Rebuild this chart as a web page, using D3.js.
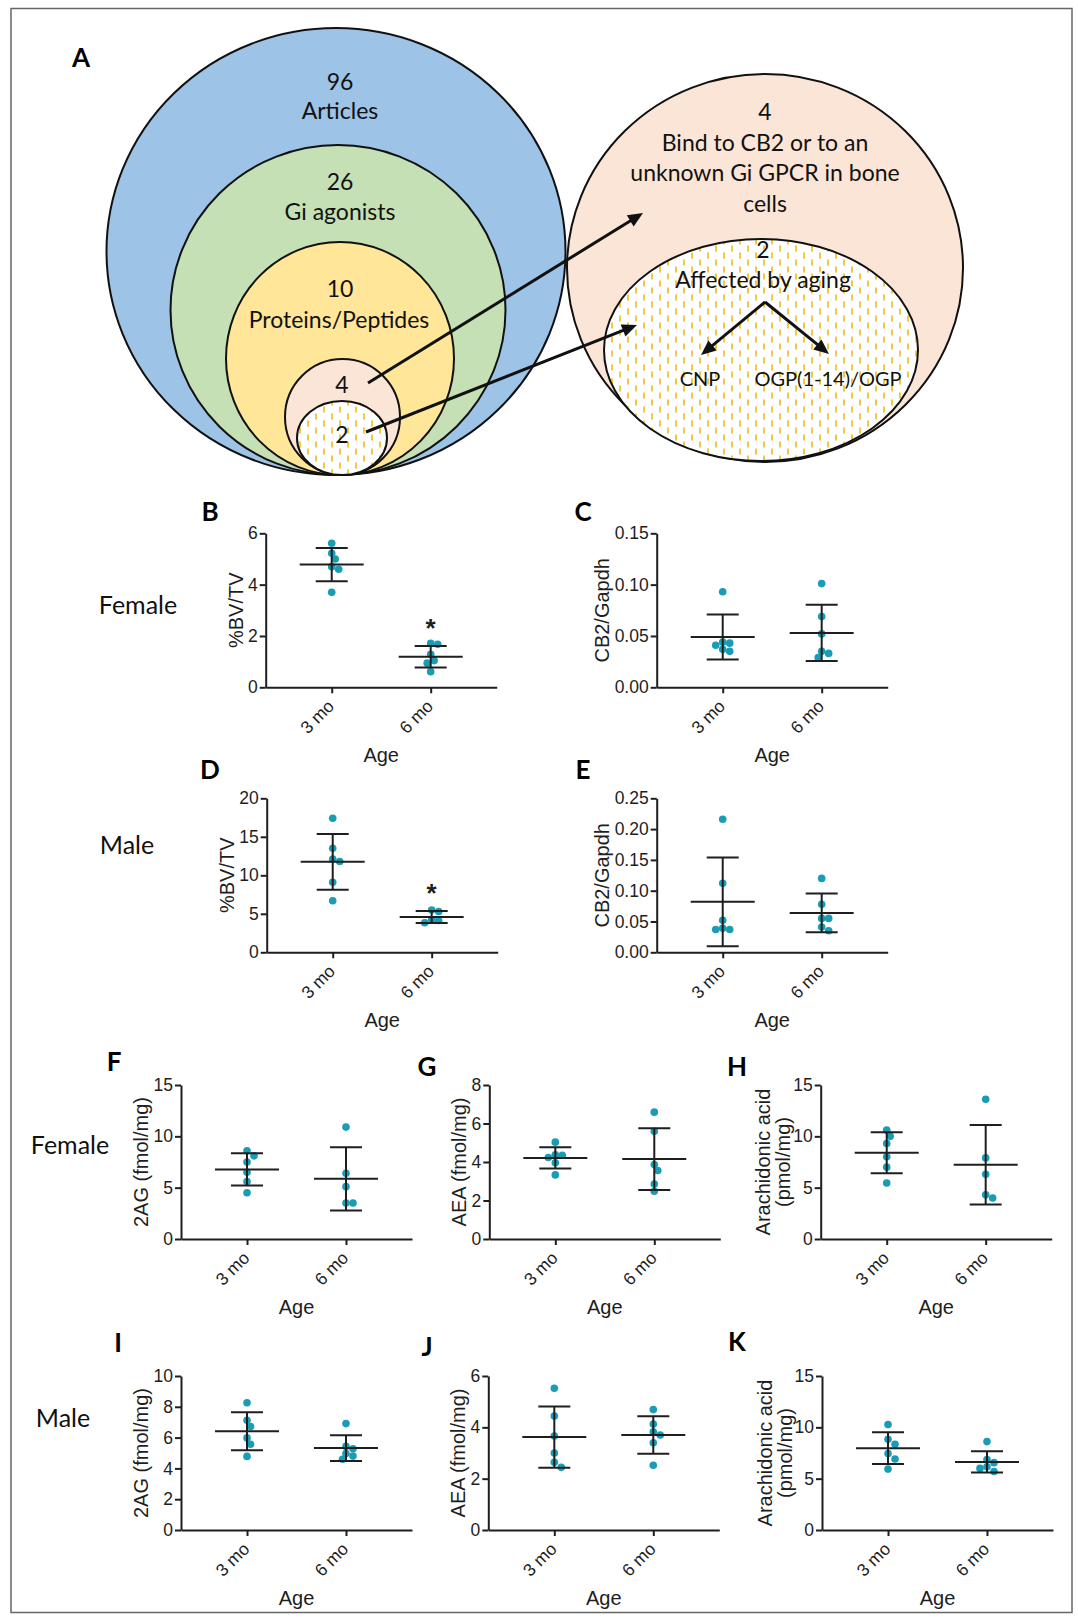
<!DOCTYPE html>
<html>
<head>
<meta charset="utf-8">
<script src="https://cdn.jsdelivr.net/npm/d3@7"></script>
<style>
body { margin: 0; background: #fff; }
</style>
</head>
<body>
<div id="figure"></div>
<script>
// ---- data ----
var ages = ["3 mo", "6 mo"]

var vennCounts = ["96", "26", "10", "4", "2"]
var vennNames = ["Articles", "Gi agonists", "Proteins/Peptides"]
var cb2Lines = ["4", "Bind to CB2 or to an", "unknown Gi GPCR in bone", "cells"]
var agingLines = ["2", "Affected by aging"]
var agingTargets = ["CNP", "OGP(1-14)/OGP"]
var rowLabels = ["Female", "Male", "Female", "Male"]

// B: %BV/TV female
var bvtvFemale = [[5.61, 5.22, 5.00, 4.70, 4.60, 3.70], [1.71, 1.68, 1.29, 1.04, 0.94, 0.61]]
var bvtvFemaleMean = [4.78, 1.19]
var bvtvFemaleSd = [0.645, 0.42]
var bvtvFemaleStars = ["", "*"]
var ticksBvtvFemale = [0, 2, 4, 6]

// C: CB2/Gapdh female
var cb2Female = [[0.093, 0.044, 0.043, 0.041, 0.037, 0.035], [0.101, 0.069, 0.052, 0.035, 0.033, 0.029]]
var cb2FemaleMean = [0.049, 0.053]
var cb2FemaleSd = [0.022, 0.0275]
var ticksCb2Female = [0, 0.05, 0.10, 0.15]

// D: %BV/TV male
var bvtvMale = [[17.4, 13.5, 12.1, 11.8, 9.1, 6.7], [5.48, 5.30, 4.26, 4.13, 3.83]]
var bvtvMaleMean = [11.75, 4.57]
var bvtvMaleSd = [3.62, 0.78]
var bvtvMaleStars = ["", "*"]
var ticksBvtvMale = [0, 5, 10, 15, 20]

// E: CB2/Gapdh male
var cb2Male = [[0.216, 0.112, 0.052, 0.039, 0.037, 0.037], [0.120, 0.078, 0.055, 0.055, 0.041, 0.035]]
var cb2MaleMean = [0.082, 0.064]
var cb2MaleSd = [0.072, 0.0315]
var ticksCb2Male = [0, 0.05, 0.10, 0.15, 0.20, 0.25]

// F-H: female lipids
var agFemale = [[8.6, 8.1, 7.5, 6.5, 5.6, 4.5], [10.9, 6.4, 5.1, 3.5, 3.5]]
var agFemaleMean = [6.78, 5.86]
var agFemaleSd = [1.58, 3.08]
var ticksAgFemale = [0, 5, 10, 15]

var aeaFemale = [[5.03, 4.37, 4.35, 4.23, 3.96, 3.33], [6.59, 5.60, 3.87, 3.56, 2.86, 2.48]]
var aeaFemaleMean = [4.21, 4.15]
var aeaFemaleSd = [0.55, 1.60]
var ticksAeaFemale = [0, 2, 4, 6, 8]

var aaFemale = [[10.6, 10.0, 9.3, 8.0, 7.0, 5.45], [13.6, 7.9, 6.3, 4.3, 4.0]]
var aaFemaleMean = [8.40, 7.23]
var aaFemaleSd = [2.00, 3.88]
var ticksAaFemale = [0, 5, 10, 15]

// I-K: male lipids
var agMale = [[8.26, 7.13, 6.72, 5.98, 5.57, 4.78], [6.91, 5.43, 5.28, 4.96, 4.80, 4.59]]
var agMaleMean = [6.41, 5.32]
var agMaleSd = [1.23, 0.84]
var ticksAgMale = [0, 2, 4, 6, 8, 10]

var aeaMale = [[5.52, 4.44, 3.66, 3.00, 2.64, 2.44], [4.69, 4.13, 3.83, 3.70, 3.40, 2.52]]
var aeaMaleMean = [3.62, 3.70]
var aeaMaleSd = [1.19, 0.73]
var ticksAeaMale = [0, 2, 4, 6]

var aaMale = [[10.27, 8.83, 8.35, 7.44, 6.91, 5.93], [8.61, 6.85, 6.56, 6.16, 6.00, 5.70]]
var aaMaleMean = [7.97, 6.63]
var aaMaleSd = [1.54, 1.03]
var ticksAaMale = [0, 5, 10, 15]

// ---- layout ----
var W = 1078, H = 1617
var plotW = 231, plotH = 154
var ink = "#1e1e1e", dotColor = "#1a9cb4"
var sansFont = "'Liberation Sans', Arial, sans-serif"
var textFont = "Lato, 'Open Sans', sans-serif"

var svg = d3.select("#figure").append("svg")
            .attr("width", W)
            .attr("height", H)

var defs = svg.append("defs")
var pat = defs.append("pattern")
              .attr("id", "dash")
              .attr("width", 16)
              .attr("height", 14)
              .attr("patternUnits", "userSpaceOnUse")
pat.append("rect").attr("width", 16).attr("height", 14).attr("fill", "#fff")
pat.append("line").attr("x1", 4).attr("x2", 4).attr("y1", 0.5).attr("y2", 6.5)
   .attr("stroke", "#f0b400").attr("stroke-width", 1.5)
pat.append("line").attr("x1", 12).attr("x2", 12).attr("y1", 7.5).attr("y2", 13.5)
   .attr("stroke", "#f0b400").attr("stroke-width", 1.5)

svg.append("rect")
    .attr("x", 11).attr("y", 8.5)
    .attr("width", 1061).attr("height", 1604)
    .attr("fill", "none")
    .attr("stroke", "#666")
    .attr("stroke-width", 1.5)

// ---- panel A: nested sets ----
var vennShapes = [
    {cx: 336, cy: 251.5, rx: 229.5, ry: 223.5, fill: "#9dc3e6"},
    {cx: 338, cy: 310, rx: 167.5, ry: 165, fill: "#c5e0b4"},
    {cx: 340, cy: 358.5, rx: 114, ry: 116.5, fill: "#ffe699"},
    {cx: 342.5, cy: 417, rx: 57.5, ry: 58, fill: "#fbe5d6"},
    {cx: 342, cy: 438, rx: 45, ry: 37, fill: "url(#dash)"},
    {cx: 765, cy: 268, rx: 198, ry: 194, fill: "#fbe5d6"},
    {cx: 761, cy: 350, rx: 157, ry: 111, fill: "url(#dash)"}
]

svg.append("g").selectAll("ellipse")
    .data(vennShapes)
    .enter()
    .append("ellipse")
    .attr("cx", function(d) { return d.cx })
    .attr("cy", function(d) { return d.cy })
    .attr("rx", function(d) { return d.rx })
    .attr("ry", function(d) { return d.ry })
    .attr("fill", function(d) { return d.fill })
    .attr("stroke", "#111")
    .attr("stroke-width", 2)

var vennText = [
    {t: vennCounts[0], x: 340, y: 90}, {t: vennNames[0], x: 340, y: 119},
    {t: vennCounts[1], x: 340, y: 190}, {t: vennNames[1], x: 340, y: 220},
    {t: vennCounts[2], x: 340, y: 297}, {t: vennNames[2], x: 339, y: 328},
    {t: vennCounts[3], x: 342, y: 393}, {t: vennCounts[4], x: 342, y: 443},
    {t: cb2Lines[0], x: 765, y: 120}, {t: cb2Lines[1], x: 765, y: 151},
    {t: cb2Lines[2], x: 765, y: 181}, {t: cb2Lines[3], x: 765, y: 212},
    {t: agingLines[0], x: 763, y: 258}, {t: agingLines[1], x: 763, y: 288}
]
svg.append("g").selectAll("text")
    .data(vennText)
    .enter()
    .append("text")
    .attr("x", function(d) { return d.x })
    .attr("y", function(d) { return d.y })
    .attr("text-anchor", "middle")
    .style("font-family", textFont)
    .style("font-size", "23px")
    .attr("fill", "#111")
    .text(function(d) { return d.t })

svg.append("g").selectAll("text")
    .data([{t: agingTargets[0], x: 700}, {t: agingTargets[1], x: 828}])
    .enter()
    .append("text")
    .attr("x", function(d) { return d.x })
    .attr("y", 386)
    .attr("text-anchor", "middle")
    .style("font-family", textFont)
    .style("font-size", "20px")
    .attr("fill", "#111")
    .text(function(d) { return d.t })

var arrows = [[368, 383, 643, 213], [366, 432, 637, 325], [765, 302, 701, 355], [765, 302, 829, 354]]
var arrowG = svg.append("g")
arrows.forEach(function(a) {
    var dx = a[2] - a[0], dy = a[3] - a[1], len = Math.sqrt(dx * dx + dy * dy)
    var ux = dx / len, uy = dy / len
    var bx = a[2] - ux * 15, by = a[3] - uy * 15
    arrowG.append("line")
        .attr("x1", a[0]).attr("y1", a[1])
        .attr("x2", a[2] - ux * 8).attr("y2", a[3] - uy * 8)
        .attr("stroke", "#111")
        .attr("stroke-width", 3)
    arrowG.append("path")
        .attr("d", "M" + a[2] + "," + a[3] +
                   "L" + (bx - uy * 6.5) + "," + (by + ux * 6.5) +
                   "L" + (bx + uy * 6.5) + "," + (by - ux * 6.5) + "Z")
        .attr("fill", "#111")
})

// ---- panel letters and row labels ----
var letters = [
    {t: "A", x: 81, y: 67}, {t: "B", x: 210, y: 521}, {t: "C", x: 583, y: 521},
    {t: "D", x: 210, y: 779}, {t: "E", x: 583, y: 779}, {t: "F", x: 114, y: 1071},
    {t: "G", x: 427, y: 1076}, {t: "H", x: 737, y: 1076}, {t: "I", x: 118, y: 1352},
    {t: "J", x: 427, y: 1356}, {t: "K", x: 737, y: 1351}
]
svg.append("g").selectAll("text")
    .data(letters)
    .enter()
    .append("text")
    .attr("x", function(d) { return d.x })
    .attr("y", function(d) { return d.y })
    .attr("text-anchor", "middle")
    .style("font-family", textFont)
    .style("font-weight", "bold")
    .style("font-size", "26px")
    .attr("fill", "#000")
    .text(function(d) { return d.t })

var rowPos = [[138, 614], [127, 854], [70, 1154], [63, 1427]]
svg.append("g").selectAll("text")
    .data(rowLabels)
    .enter()
    .append("text")
    .attr("x", function(d, i) { return rowPos[i][0] })
    .attr("y", function(d, i) { return rowPos[i][1] })
    .attr("text-anchor", "middle")
    .style("font-family", textFont)
    .style("font-size", "25px")
    .attr("fill", "#111")
    .text(function(d) { return d })

// ---- scatter panels ----
var panels = [
    {x: 265.7, y: 533.3, values: bvtvFemale, mean: bvtvFemaleMean, sd: bvtvFemaleSd, ticks: ticksBvtvFemale, label: ["%BV/TV"], stars: bvtvFemaleStars, fmt: "d"},
    {x: 656.7, y: 533.3, values: cb2Female, mean: cb2FemaleMean, sd: cb2FemaleSd, ticks: ticksCb2Female, label: ["CB2/Gapdh"], fmt: ".2f"},
    {x: 266.7, y: 798.3, values: bvtvMale, mean: bvtvMaleMean, sd: bvtvMaleSd, ticks: ticksBvtvMale, label: ["%BV/TV"], stars: bvtvMaleStars, fmt: "d"},
    {x: 656.7, y: 798.3, values: cb2Male, mean: cb2MaleMean, sd: cb2MaleSd, ticks: ticksCb2Male, label: ["CB2/Gapdh"], fmt: ".2f"},
    {x: 181, y: 1085, values: agFemale, mean: agFemaleMean, sd: agFemaleSd, ticks: ticksAgFemale, label: ["2AG (fmol/mg)"], fmt: "d"},
    {x: 489.3, y: 1085, values: aeaFemale, mean: aeaFemaleMean, sd: aeaFemaleSd, ticks: ticksAeaFemale, label: ["AEA (fmol/mg)"], fmt: "d"},
    {x: 820.7, y: 1085, values: aaFemale, mean: aaFemaleMean, sd: aaFemaleSd, ticks: ticksAaFemale, label: ["Arachidonic acid", "(pmol/mg)"], fmt: "d"},
    {x: 181, y: 1376, values: agMale, mean: agMaleMean, sd: agMaleSd, ticks: ticksAgMale, label: ["2AG (fmol/mg)"], fmt: "d"},
    {x: 488.3, y: 1376, values: aeaMale, mean: aeaMaleMean, sd: aeaMaleSd, ticks: ticksAeaMale, label: ["AEA (fmol/mg)"], fmt: "d"},
    {x: 822, y: 1376, values: aaMale, mean: aaMaleMean, sd: aaMaleSd, ticks: ticksAaMale, label: ["Arachidonic acid", "(pmol/mg)"], fmt: "d"}
]

// spread points that would overlap, like a column scatter
function swarm(vals, yScale, step, minDist) {
    var placed = []
    return vals.map(function(v) {
        var py = yScale(v), k = 0, off = 0
        while (true) {
            off = k === 0 ? 0 : (k % 2 ? 1 : -1) * Math.ceil(k / 2) * step
            var hit = placed.some(function(q) { return Math.hypot(q[0] - off, q[1] - py) < minDist })
            if (!hit) break
            k++
        }
        placed.push([off, py])
        return {value: v, dx: off}
    })
}

function drawPanel(p) {
    var g = svg.append("g").attr("transform", "translate(" + p.x + "," + p.y + ")")

    var xScale = d3.scalePoint().domain(ages).range([0, plotW]).padding(0.667)
    var yScale = d3.scaleLinear().domain([0, d3.max(p.ticks)]).range([plotH, 0])

    // points first, bars on top
    ages.forEach(function(age, i) {
        var pts = swarm(p.values[i], yScale, 3.5, 6.5)
        g.selectAll(".pt" + i)
            .data(pts)
            .enter()
            .append("circle")
            .attr("cx", function(d) { return xScale(age) + d.dx })
            .attr("cy", function(d) { return yScale(d.value) })
            .attr("r", 3.8)
            .attr("fill", dotColor)
    })

    ages.forEach(function(age, i) {
        var cx = xScale(age), m = p.mean[i], s = p.sd[i]
        var bars = [
            [cx, yScale(m - s), cx, yScale(m + s)],
            [cx - 32, yScale(m), cx + 32, yScale(m)],
            [cx - 16, yScale(m + s), cx + 16, yScale(m + s)],
            [cx - 16, yScale(m - s), cx + 16, yScale(m - s)]
        ]
        g.selectAll(".bar" + i)
            .data(bars)
            .enter()
            .append("line")
            .attr("x1", function(d) { return d[0] })
            .attr("y1", function(d) { return d[1] })
            .attr("x2", function(d) { return d[2] })
            .attr("y2", function(d) { return d[3] })
            .attr("stroke", ink)
            .attr("stroke-width", 2)
        if (p.stars && p.stars[i]) {
            g.append("text")
                .attr("x", cx)
                .attr("y", yScale(m + s) - 9)
                .attr("text-anchor", "middle")
                .style("font-family", sansFont)
                .style("font-weight", "bold")
                .style("font-size", "26px")
                .attr("fill", ink)
                .text(p.stars[i])
        }
    })

    var yAxis = g.append("g")
        .call(d3.axisLeft(yScale)
                .tickValues(p.ticks)
                .tickFormat(d3.format(p.fmt))
                .tickSize(6)
                .tickSizeOuter(0)
                .tickPadding(2))
    var xAxis = g.append("g")
        .attr("transform", "translate(0," + plotH + ")")
        .call(d3.axisBottom(xScale).tickSize(6).tickSizeOuter(0))

    ;[yAxis, xAxis].forEach(function(ax) {
        ax.select(".domain").attr("stroke", ink).attr("stroke-width", 2)
        ax.selectAll(".tick line").attr("stroke", ink).attr("stroke-width", 2)
        ax.selectAll("text")
            .attr("fill", ink)
            .style("font-family", sansFont)
            .style("font-size", "17.5px")
    })
    xAxis.selectAll("text")
        .attr("y", 0)
        .attr("dy", 0)
        .attr("text-anchor", "end")
        .attr("transform", "translate(3,20) rotate(-45)")

    g.append("text")
        .attr("x", plotW / 2)
        .attr("y", plotH + 75)
        .attr("text-anchor", "middle")
        .style("font-family", sansFont)
        .style("font-size", "20px")
        .attr("fill", ink)
        .text("Age")

    var maxW = d3.max(yAxis.selectAll("text").nodes(), function(n) { return n.getBBox().width })
    var labelLeft = -(8 + maxW)
    var offs = p.label.length === 1 ? [labelLeft - 12] : [labelLeft - 29.5, labelLeft - 9.5]
    p.label.forEach(function(line, j) {
        g.append("text")
            .attr("transform", "translate(" + offs[j] + "," + (plotH / 2) + ") rotate(-90)")
            .attr("dy", "0.35em")
            .attr("text-anchor", "middle")
            .style("font-family", sansFont)
            .style("font-size", "20px")
            .attr("fill", ink)
            .text(line)
    })
}

panels.forEach(drawPanel)
</script>
</body>
</html>
